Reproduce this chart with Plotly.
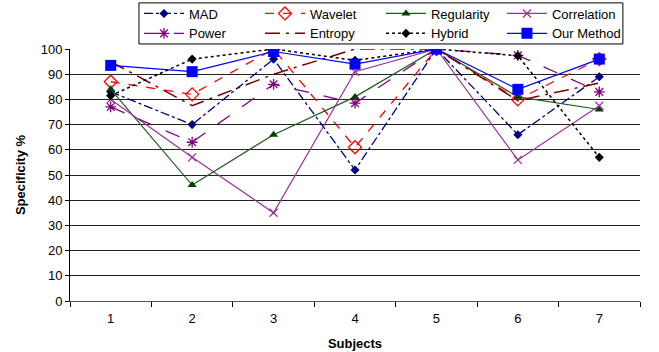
import plotly.graph_objects as go

subjects = ["1", "2", "3", "4", "5", "6", "7"]
mad = [83, 70, 96, 52, 100, 66, 89]
wavelet = [87, 82, 100, 61, 100, 80, 96]
regularity = [84, 46, 66, 81, 100, 81, 76]
correlation = [80, 57, 35, 91, 100, 56, 77.5]
power = [77, 63, 86, 78.5, 100, 97.5, 83]
entropy = [95, 77.5, 90, 100, 100, 79.5, 86.5]
hybrid = [81.5, 96, 100, 95.5, 100, 97.3, 57]
our_method = [93.5, 91, 99, 94, 100, 84, 96]

series = [
    ("MAD", mad, dict(color="#000080", width=1.3, dash="dashdot"), dict(symbol="diamond", size=7, color="#000080")),
    ("Wavelet", wavelet, dict(color="#ff0000", width=1.3, dash="dash"), dict(symbol="diamond-open", size=10, color="#ff0000", line=dict(width=1.3))),
    ("Regularity", regularity, dict(color="#1e5a1e", width=1.2), dict(symbol="triangle-up", size=8, color="#004000")),
    ("Correlation", correlation, dict(color="#993399", width=1.2), dict(symbol="x-thin-open", size=8, color="#993399", line=dict(width=1.3, color="#993399"))),
    ("Power", power, dict(color="#800080", width=1.3, dash="longdash"), dict(symbol="asterisk-open", size=9, color="#800080", line=dict(width=1.3, color="#800080"))),
    ("Entropy", entropy, dict(color="#800000", width=1.5, dash="longdashdot"), dict(symbol="line-ew-open", size=1, color="#800000")),
    ("Hybrid", hybrid, dict(color="#000000", width=1.5, dash="dot"), dict(symbol="diamond", size=7, color="#000000")),
    ("Our Method", our_method, dict(color="#0000ff", width=1.2), dict(symbol="square", size=11, color="#0000ff")),
]

fig = go.Figure()
for name, vals, line, marker in series:
    mode = "lines" if name == "Entropy" else "lines+markers"
    fig.add_trace(go.Scatter(x=subjects, y=vals, name=name, mode=mode, line=line, marker=marker))

# legend frame
fig.add_shape(type="rect", xref="paper", yref="paper",
              x0=0.121, x1=0.970, y0=1.020, y1=1.183,
              line=dict(color="#000000", width=1), fillcolor="rgba(0,0,0,0)")

fig.update_layout(
    width=659, height=352,
    margin=dict(l=70, r=19, t=49, b=51, autoexpand=False),
    paper_bgcolor="white", plot_bgcolor="white",
    font=dict(family="Liberation Sans, Arial, sans-serif", size=13, color="#000000"),
    showlegend=True,
    legend=dict(
        orientation="h", x=0.121, y=1.002, xanchor="left", yanchor="bottom",
        entrywidth=66, entrywidthmode="pixels",
        borderwidth=0, bgcolor="rgba(0,0,0,0)",
        font=dict(size=13), itemwidth=40, tracegroupgap=0,
    ),
    xaxis=dict(
        type="category", tickson="boundaries", ticks="outside", ticklen=5,
        tickcolor="#000000", showline=True, linecolor="#555555", linewidth=1,
        showgrid=False, range=[-0.5, 6.5], ticklabelstandoff=5,
        title=dict(text="<b>Subjects</b>", font=dict(size=13), standoff=14),
    ),
    yaxis=dict(
        range=[0, 100], tickvals=list(range(0, 101, 10)), ticks="outside", ticklen=4,
        tickcolor="#000000", showline=True, linecolor="#000000", linewidth=1,
        showgrid=True, gridcolor="#222222", gridwidth=1, zeroline=False,
        title=dict(text="<b>Specificity %</b>", font=dict(size=13), standoff=12),
    ),
)

fig.write_html("out.html")
